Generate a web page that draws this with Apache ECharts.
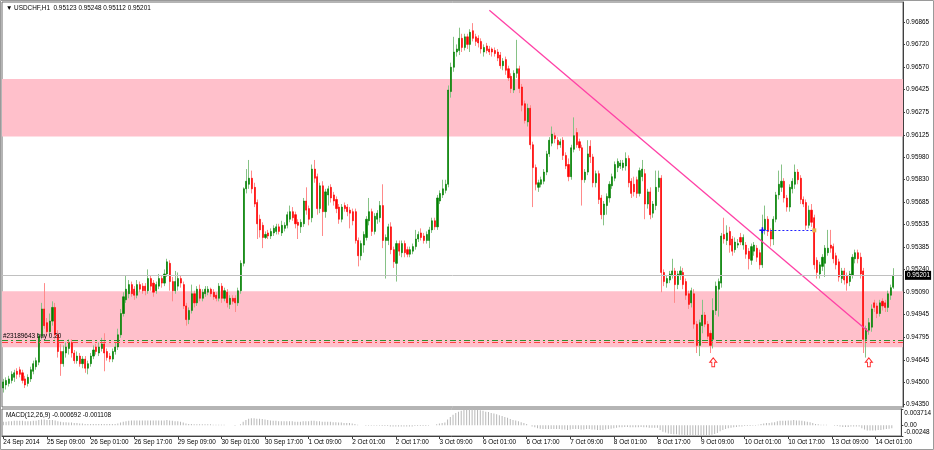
<!DOCTYPE html>
<html>
<head>
<meta charset="utf-8">
<script src="https://cdn.jsdelivr.net/npm/echarts@6/dist/echarts.min.js"></script>
<style>html,body{margin:0;padding:0;background:#fff}#c{width:934px;height:450px}</style>
</head>
<body>
<div id="c"></div>
<script>
// ---------- DATA ----------
const symbol = 'USDCHF,H1';
// hourly candles [open, close, low, high], first bar 24 Sep 2014 17:00
const candles = [
[0.9446,0.9450,0.9443,0.9452],[0.9448,0.9451,0.9445,0.9453],[0.9449,0.9452,0.9447,0.9454],[0.9451,0.9455,0.9449,0.9457],[0.9453,0.9456,0.9450,0.9458],
[0.9457,0.9455,0.9452,0.9459],[0.9458,0.9455,0.9453,0.9460],[0.9456,0.9451,0.9449,0.9458],[0.9452,0.9448,0.9446,0.9454],[0.9449,0.9453,0.9447,0.9455],
[0.9452,0.9458,0.9450,0.9460],[0.9457,0.9462,0.9455,0.9464],[0.9460,0.9464,0.9458,0.9466],[0.9463,0.9480,0.9461,0.9482],[0.9480,0.9498,0.9478,0.9502],
[0.9498,0.9487,0.9485,0.9515],[0.9489,0.9483,0.9480,0.9492],[0.9483,0.9490,0.9480,0.9495],[0.9490,0.9499,0.9487,0.9503],[0.9499,0.9481,0.9478,0.9502],
[0.9481,0.9470,0.9466,0.9484],[0.9470,0.9462,0.9454,0.9475],[0.9462,0.9470,0.9460,0.9474],[0.9469,0.9473,0.9466,0.9476],[0.9472,0.9476,0.9468,0.9478],
[0.9476,0.9469,0.9466,0.9478],[0.9469,0.9464,0.9462,0.9471],[0.9464,0.9467,0.9462,0.9470],[0.9467,0.9462,0.9460,0.9469],[0.9462,0.9465,0.9459,0.9467],
[0.9465,0.9459,0.9456,0.9467],[0.9459,0.9462,0.9455,0.9464],[0.9462,0.9467,0.9460,0.9469],[0.9467,0.9471,0.9465,0.9474],[0.9473,0.9470,0.9468,0.9475],
[0.9469,0.9473,0.9467,0.9476],[0.9472,0.9475,0.9470,0.9479],[0.9475,0.9469,0.9457,0.9482],[0.9470,0.9466,0.9464,0.9472],[0.9467,0.9465,0.9463,0.9469],
[0.9465,0.9470,0.9463,0.9472],[0.9470,0.9473,0.9468,0.9476],[0.9473,0.9481,0.9471,0.9485],[0.9481,0.9495,0.9479,0.9498],[0.9495,0.9506,0.9493,0.9509],
[0.9504,0.9511,0.9502,0.9520],[0.9508,0.9514,0.9505,0.9517],[0.9514,0.9508,0.9506,0.9516],[0.9511,0.9507,0.9504,0.9513],[0.9507,0.9514,0.9505,0.9517],
[0.9514,0.9511,0.9509,0.9516],[0.9513,0.9510,0.9508,0.9515],[0.9513,0.9510,0.9507,0.9515],[0.9510,0.9518,0.9508,0.9524],[0.9518,0.9513,0.9510,0.9520],
[0.9515,0.9509,0.9506,0.9517],[0.9510,0.9514,0.9508,0.9516],[0.9513,0.9518,0.9511,0.9521],[0.9518,0.9515,0.9512,0.9520],[0.9515,0.9521,0.9513,0.9524],
[0.9521,0.9529,0.9519,0.9531],[0.9528,0.9516,0.9510,0.9530],[0.9516,0.9510,0.9503,0.9519],[0.9510,0.9516,0.9508,0.9523],[0.9513,0.9518,0.9510,0.9522],
[0.9518,0.9515,0.9512,0.9520],[0.9514,0.9500,0.9498,0.9516],[0.9500,0.9491,0.9487,0.9502],[0.9491,0.9497,0.9488,0.9499],[0.9497,0.9508,0.9495,0.9514],
[0.9508,0.9502,0.9499,0.9510],[0.9502,0.9511,0.9500,0.9513],[0.9511,0.9505,0.9503,0.9514],[0.9505,0.9509,0.9503,0.9511],[0.9508,0.9511,0.9506,0.9513],
[0.9509,0.9511,0.9507,0.9513],[0.9511,0.9508,0.9506,0.9512],[0.9509,0.9506,0.9504,0.9511],[0.9507,0.9505,0.9503,0.9509],[0.9505,0.9513,0.9503,0.9515],
[0.9513,0.9505,0.9502,0.9515],[0.9505,0.9510,0.9503,0.9512],[0.9509,0.9502,0.9499,0.9511],[0.9501,0.9505,0.9498,0.9507],[0.9505,0.9503,0.9501,0.9507],
[0.9505,0.9502,0.9496,0.9507],[0.9502,0.9510,0.9500,0.9512],[0.9510,0.9528,0.9508,0.9530],[0.9528,0.9577,0.9526,0.9578],[0.9577,0.9582,0.9574,0.9590],
[0.9580,0.9584,0.9577,0.9596],[0.9584,0.9577,0.9574,0.9589],[0.9578,0.9567,0.9565,0.9581],[0.9568,0.9554,0.9544,0.9570],[0.9557,0.9550,0.9545,0.9560],
[0.9553,0.9545,0.9538,0.9555],[0.9545,0.9547,0.9544,0.9549],[0.9548,0.9546,0.9544,0.9550],[0.9546,0.9549,0.9544,0.9551],[0.9548,0.9551,0.9546,0.9553],
[0.9549,0.9552,0.9547,0.9554],[0.9552,0.9549,0.9547,0.9554],[0.9548,0.9553,0.9546,0.9556],[0.9551,0.9553,0.9549,0.9555],[0.9553,0.9560,0.9551,0.9562],
[0.9557,0.9562,0.9555,0.9566],[0.9562,0.9558,0.9556,0.9565],[0.9560,0.9554,0.9551,0.9562],[0.9555,0.9553,0.9544,0.9557],[0.9552,0.9555,0.9548,0.9557],
[0.9554,0.9569,0.9552,0.9571],[0.9569,0.9563,0.9560,0.9578],[0.9564,0.9557,0.9553,0.9566],[0.9558,0.9590,0.9555,0.9593],[0.9590,0.9584,0.9581,0.9596],
[0.9585,0.9564,0.9560,0.9587],[0.9564,0.9579,0.9561,0.9581],[0.9579,0.9562,0.9546,0.9582],[0.9562,0.9575,0.9558,0.9577],[0.9573,0.9577,0.9566,0.9579],
[0.9578,0.9571,0.9568,0.9580],[0.9573,0.9569,0.9566,0.9575],[0.9570,0.9564,0.9561,0.9572],[0.9565,0.9557,0.9554,0.9567],[0.9557,0.9565,0.9555,0.9567],
[0.9566,0.9564,0.9562,0.9568],[0.9565,0.9562,0.9559,0.9567],[0.9563,0.9561,0.9551,0.9565],[0.9562,0.9556,0.9553,0.9564],[0.9562,0.9543,0.9541,0.9564],
[0.9543,0.9533,0.9526,0.9545],[0.9533,0.9541,0.9530,0.9543],[0.9540,0.9547,0.9535,0.9549],[0.9545,0.9557,0.9543,0.9559],[0.9556,0.9562,0.9553,0.9571],
[0.9562,0.9549,0.9546,0.9564],[0.9549,0.9559,0.9547,0.9561],[0.9557,0.9561,0.9554,0.9563],[0.9558,0.9566,0.9555,0.9569],[0.9566,0.9543,0.9538,0.9580],
[0.9543,0.9545,0.9518,0.9547],[0.9543,0.9552,0.9540,0.9554],[0.9552,0.9537,0.9534,0.9555],[0.9537,0.9529,0.9525,0.9539],[0.9528,0.9541,0.9516,0.9543],
[0.9541,0.9536,0.9533,0.9543],[0.9535,0.9541,0.9532,0.9543],[0.9541,0.9535,0.9532,0.9543],[0.9537,0.9534,0.9532,0.9539],[0.9534,0.9537,0.9532,0.9539],
[0.9536,0.9539,0.9534,0.9541],[0.9539,0.9544,0.9537,0.9550],[0.9544,0.9547,0.9542,0.9549],[0.9548,0.9545,0.9543,0.9551],[0.9546,0.9543,0.9541,0.9548],
[0.9543,0.9547,0.9541,0.9549],[0.9543,0.9550,0.9538,0.9552],[0.9550,0.9556,0.9548,0.9558],[0.9556,0.9552,0.9550,0.9558],[0.9552,0.9571,0.9550,0.9573],
[0.9569,0.9574,0.9567,0.9576],[0.9573,0.9577,0.9571,0.9583],[0.9576,0.9580,0.9574,0.9583],[0.9580,0.9642,0.9578,0.9645],[0.9641,0.9657,0.9637,0.9660],
[0.9657,0.9667,0.9654,0.9677],[0.9667,0.9669,0.9664,0.9672],[0.9668,0.9676,0.9665,0.9683],[0.9676,0.9670,0.9667,0.9679],[0.9670,0.9677,0.9668,0.9679],
[0.9677,0.9672,0.9669,0.9679],[0.9672,0.9680,0.9667,0.9682],[0.9681,0.9676,0.9674,0.9686],[0.9677,0.9674,0.9671,0.9679],[0.9676,0.9673,0.9670,0.9678],
[0.9674,0.9669,0.9666,0.9676],[0.9667,0.9670,0.9664,0.9672],[0.9671,0.9668,0.9666,0.9673],[0.9669,0.9667,0.9665,0.9671],[0.9669,0.9667,0.9664,0.9670],
[0.9668,0.9666,0.9664,0.9670],[0.9667,0.9663,0.9661,0.9669],[0.9665,0.9658,0.9656,0.9667],[0.9658,0.9661,0.9655,0.9663],[0.9662,0.9655,0.9652,0.9664],
[0.9656,0.9650,0.9648,0.9658],[0.9651,0.9643,0.9640,0.9653],[0.9642,0.9653,0.9640,0.9655],[0.9653,0.9656,0.9650,0.9675],[0.9656,0.9643,0.9640,0.9658],
[0.9644,0.9632,0.9628,0.9646],[0.9633,0.9622,0.9620,0.9635],[0.9621,0.9630,0.9618,0.9633],[0.9630,0.9606,0.9603,0.9632],[0.9606,0.9591,0.9565,0.9608],
[0.9591,0.9580,0.9576,0.9593],[0.9578,0.9581,0.9575,0.9583],[0.9580,0.9583,0.9578,0.9585],[0.9582,0.9588,0.9580,0.9590],[0.9588,0.9600,0.9586,0.9602],
[0.9600,0.9609,0.9598,0.9611],[0.9607,0.9613,0.9605,0.9618],[0.9612,0.9610,0.9607,0.9614],[0.9609,0.9606,0.9603,0.9611],[0.9606,0.9608,0.9604,0.9610],
[0.9609,0.9599,0.9596,0.9611],[0.9599,0.9592,0.9590,0.9601],[0.9593,0.9585,0.9582,0.9597],[0.9585,0.9604,0.9583,0.9606],[0.9603,0.9612,0.9601,0.9624],
[0.9614,0.9606,0.9604,0.9617],[0.9608,0.9604,0.9602,0.9610],[0.9604,0.9583,0.9566,0.9606],[0.9583,0.9588,0.9581,0.9590],[0.9588,0.9600,0.9586,0.9609],
[0.9605,0.9598,0.9594,0.9609],[0.9598,0.9581,0.9578,0.9600],[0.9581,0.9587,0.9578,0.9589],[0.9587,0.9570,0.9567,0.9589],[0.9571,0.9560,0.9557,0.9573],
[0.9560,0.9567,0.9553,0.9569],[0.9566,0.9572,0.9560,0.9574],[0.9571,0.9580,0.9568,0.9582],[0.9579,0.9585,0.9577,0.9587],[0.9584,0.9593,0.9582,0.9595],
[0.9591,0.9595,0.9588,0.9597],[0.9592,0.9594,0.9590,0.9596],[0.9591,0.9594,0.9589,0.9596],[0.9592,0.9597,0.9589,0.9601],[0.9597,0.9581,0.9578,0.9599],
[0.9582,0.9574,0.9571,0.9584],[0.9580,0.9575,0.9572,0.9585],[0.9583,0.9574,0.9571,0.9585],[0.9574,0.9589,0.9572,0.9591],[0.9585,0.9590,0.9582,0.9596],
[0.9587,0.9567,0.9557,0.9590],[0.9567,0.9575,0.9564,0.9577],[0.9575,0.9560,0.9557,0.9578],[0.9561,0.9567,0.9558,0.9569],[0.9566,0.9578,0.9563,0.9589],
[0.9578,0.9584,0.9575,0.9589],[0.9584,0.9522,0.9509,0.9586],[0.9522,0.9516,0.9513,0.9524],[0.9515,0.9518,0.9512,0.9520],[0.9517,0.9521,0.9515,0.9523],
[0.9520,0.9523,0.9518,0.9531],[0.9523,0.9514,0.9502,0.9525],[0.9514,0.9521,0.9511,0.9523],[0.9520,0.9523,0.9517,0.9526],[0.9522,0.9514,0.9511,0.9525],
[0.9516,0.9507,0.9504,0.9518],[0.9508,0.9501,0.9498,0.9510],[0.9502,0.9510,0.9499,0.9512],[0.9508,0.9488,0.9485,0.9511],[0.9488,0.9474,0.9469,0.9490],
[0.9474,0.9489,0.9467,0.9491],[0.9487,0.9494,0.9482,0.9504],[0.9494,0.9488,0.9486,0.9496],[0.9488,0.9480,0.9478,0.9490],[0.9482,0.9474,0.9469,0.9484],
[0.9478,0.9497,0.9472,0.9505],[0.9497,0.9513,0.9494,0.9516],[0.9511,0.9516,0.9493,0.9518],[0.9515,0.9546,0.9512,0.9548],[0.9547,0.9544,0.9541,0.9558],
[0.9543,0.9548,0.9540,0.9553],[0.9549,0.9540,0.9535,0.9552],[0.9544,0.9536,0.9533,0.9546],[0.9537,0.9542,0.9535,0.9545],[0.9540,0.9541,0.9538,0.9544],
[0.9545,0.9542,0.9540,0.9548],[0.9540,0.9545,0.9537,0.9547],[0.9540,0.9534,0.9531,0.9542],[0.9536,0.9531,0.9524,0.9538],[0.9530,0.9539,0.9527,0.9541],
[0.9536,0.9540,0.9533,0.9542],[0.9538,0.9532,0.9529,0.9540],[0.9535,0.9527,0.9524,0.9537],[0.9527,0.9550,0.9525,0.9560],[0.9550,0.9557,0.9547,0.9566],
[0.9557,0.9549,0.9546,0.9559],[0.9549,0.9544,0.9539,0.9551],[0.9544,0.9557,0.9540,0.9559],[0.9557,0.9573,0.9555,0.9575],[0.9573,0.9580,0.9570,0.9589],
[0.9578,0.9582,0.9575,0.9593],[0.9582,0.9571,0.9568,0.9584],[0.9571,0.9565,0.9562,0.9573],[0.9565,0.9578,0.9562,0.9580],[0.9577,0.9582,0.9574,0.9584],
[0.9580,0.9588,0.9577,0.9593],[0.9588,0.9583,0.9580,0.9590],[0.9584,0.9570,0.9567,0.9586],[0.9570,0.9567,0.9565,0.9572],[0.9568,0.9553,0.9550,0.9570],
[0.9553,0.9563,0.9551,0.9566],[0.9563,0.9555,0.9552,0.9567],[0.9558,0.9527,0.9524,0.9560],[0.9530,0.9522,0.9518,0.9532],[0.9521,0.9527,0.9518,0.9529],
[0.9526,0.9532,0.9523,0.9534],[0.9528,0.9538,0.9519,0.9540],[0.9535,0.9538,0.9533,0.9550],[0.9540,0.9538,0.9535,0.9550],[0.9539,0.9531,0.9528,0.9541],
[0.9533,0.9527,0.9524,0.9535],[0.9529,0.9519,0.9516,0.9531],[0.9518,0.9523,0.9515,0.9525],[0.9523,0.9517,0.9514,0.9525],[0.9520,0.9515,0.9510,0.9522],
[0.9516,0.9521,0.9513,0.9523],[0.9520,0.9532,0.9518,0.9534],[0.9531,0.9535,0.9528,0.9537],[0.9535,0.9531,0.9528,0.9537],[0.9532,0.9521,0.9518,0.9535],
[0.9523,0.9478,0.9469,0.9525],[0.9478,0.9485,0.9466,0.9487],[0.9484,0.9489,0.9481,0.9492],[0.9486,0.9498,0.9483,0.9501],[0.9502,0.9499,0.9496,0.9504],
[0.9500,0.9495,0.9492,0.9502],[0.9495,0.9502,0.9493,0.9504],[0.9503,0.9500,0.9497,0.9505],[0.9502,0.9499,0.9496,0.9504],[0.9499,0.9508,0.9496,0.9510],
[0.9507,0.9512,0.9504,0.9514],[0.95123,0.95201,0.95112,0.95248]
];
// MACD(12,26,9) main line histogram, one value per candle
const macd = [
0.0008,0.0008,0.0009,0.0009,0.0010,0.0010,0.0010,0.0010,0.0009,0.0009,
0.0009,0.0010,0.0010,0.0012,0.0013,0.0013,0.0012,0.0012,0.0012,0.0011,
0.0009,0.0008,0.0007,0.0007,0.0006,0.0006,0.0005,0.0005,0.0004,0.0004,
0.0003,0.0003,0.0003,0.0003,0.0003,0.0003,0.0003,0.0003,0.0003,0.0003,
0.0003,0.0003,0.0004,0.0006,0.0008,0.0009,0.0010,0.0011,0.0011,0.0011,
0.0011,0.0011,0.0011,0.0011,0.0011,0.0011,0.0011,0.0011,0.0011,0.0011,
0.0012,0.0011,0.0010,0.0009,0.0009,0.0008,0.0006,0.0004,0.0003,0.0003,
0.0002,0.0002,0.0002,0.0002,0.0002,0.0002,0.0002,0.0001,0.0001,0.0001,
0.0001,0.0001,0.0000,0.0000,0.0000,-0.0001,0.0000,0.0002,0.0008,0.0012,
0.0015,0.0016,0.0016,0.0015,0.0015,0.0014,0.0013,0.0012,0.0011,0.0010,
0.0010,0.0009,0.0009,0.0009,0.0009,0.0009,0.0009,0.0008,0.0008,0.0008,
0.0009,0.0009,0.0009,0.0010,0.0010,0.0009,0.0009,0.0008,0.0008,0.0008,
0.0008,0.0007,0.0007,0.0006,0.0006,0.0005,0.0005,0.0005,0.0004,0.0003,
0.0001,0.0000,0.0000,-0.0001,-0.0001,-0.0001,-0.0001,-0.0001,-0.0001,-0.0002,
-0.0002,-0.0002,-0.0003,-0.0003,-0.0003,-0.0003,-0.0003,-0.0003,-0.0003,-0.0003,
-0.0003,-0.0002,-0.0002,-0.0002,-0.0002,-0.0002,-0.0001,0.0000,0.0000,0.0002,
0.0004,0.0005,0.0006,0.0013,0.0019,0.0024,0.0028,0.0031,0.0033,0.0035,
0.0036,0.0037,0.0037,0.0036,0.0035,0.0034,0.0033,0.0031,0.0030,0.0028,
0.0027,0.0025,0.0023,0.0021,0.0019,0.0017,0.0014,0.0012,0.0011,0.0009,
0.0007,0.0005,0.0003,0.0000,-0.0003,-0.0005,-0.0007,-0.0008,-0.0009,-0.0009,
-0.0009,-0.0009,-0.0009,-0.0009,-0.0009,-0.0010,-0.0010,-0.0011,-0.0010,-0.0009,
-0.0009,-0.0009,-0.0010,-0.0010,-0.0009,-0.0009,-0.0010,-0.0010,-0.0011,-0.0011,
-0.0011,-0.0010,-0.0009,-0.0008,-0.0007,-0.0006,-0.0005,-0.0005,-0.0004,-0.0004,
-0.0005,-0.0005,-0.0005,-0.0005,-0.0004,-0.0005,-0.0005,-0.0006,-0.0006,-0.0006,
-0.0006,-0.0011,-0.0015,-0.0017,-0.0019,-0.0020,-0.0021,-0.0021,-0.0022,-0.0022,
-0.0023,-0.0024,-0.0024,-0.0025,-0.0025,-0.0024,-0.0024,-0.0024,-0.0024,-0.0024,
-0.0022,-0.0020,-0.0018,-0.0014,-0.0011,-0.0009,-0.0007,-0.0006,-0.0005,-0.0004,
-0.0003,-0.0003,-0.0002,-0.0002,-0.0002,-0.0001,-0.0001,0.0001,0.0003,0.0004,
0.0005,0.0005,0.0006,0.0007,0.0009,0.0010,0.0010,0.0010,0.0011,0.0011,
0.0012,0.0011,0.0011,0.0010,0.0009,0.0008,0.0007,0.0005,0.0003,0.0002,
0.0001,0.0001,0.0001,0.0000,0.0000,-0.0001,-0.0002,-0.0003,-0.0004,-0.0004,
-0.0004,-0.0003,-0.0003,-0.0003,-0.0003,-0.0007,-0.0010,-0.0012,-0.0012,-0.0012,
-0.0012,-0.0011,-0.0011,-0.0010,-0.0009,-0.0008,-0.000692
];
const macdLabel = 'MACD(12,26,9) -0.000692 -0.001108';
const yTicks = [0.94350,0.94500,0.94645,0.94795,0.94945,0.95090,0.95240,0.95385,0.95535,0.95685,0.95830,0.95980,0.96125,0.96275,0.96425,0.96570,0.96720,0.96865];
const xTickLabels = ['24 Sep 2014','25 Sep 09:00','26 Sep 01:00','26 Sep 17:00','29 Sep 09:00','30 Sep 01:00','30 Sep 17:00','1 Oct 09:00','2 Oct 01:00','2 Oct 17:00','3 Oct 09:00','6 Oct 01:00','6 Oct 17:00','7 Oct 09:00','8 Oct 01:00','8 Oct 17:00','9 Oct 09:00','10 Oct 01:00','10 Oct 17:00','13 Oct 09:00','14 Oct 01:00'];
const macdTicks = [0.003714, 0, -0.00248];
const zones = [[0.96114, 0.96492], [0.94728, 0.95097]];
const currentPrice = 0.95201;
const tradeLine = 0.94771;   // green dash-dot
const stopLine = 0.94758;    // red dash-dot
const tradeText = '#23189643 buy 0.20';
const trendStart = [178, 0.96945];
const trendEnd = [317, 0.94829];
const blueLine = [278, 297, 0.95497];
const arrowBars = [260, 317];
const arrowPrice = 0.94629;

// ---------- CATEGORIES (hourly bars, weekends skipped) ----------
const MON = ['Jan','Feb','Mar','Apr','May','Jun','Jul','Aug','Sep','Oct','Nov','Dec'];
const categories = [];
{
  let t = Date.UTC(2014, 8, 24, 17);
  while (categories.length < candles.length) {
    const d = new Date(t), wd = d.getUTCDay();
    if (wd !== 0 && wd !== 6) {
      categories.push(d.getUTCDate() + ' ' + MON[d.getUTCMonth()] + ' ' + String(d.getUTCHours()).padStart(2,'0') + ':00');
    }
    t += 3600000;
  }
  for (let k = 0; k < 3; k++) categories.push('pad' + k);
}

// ---------- CHART ----------
const FONT = 'Liberation Sans';
const FS = 6.4;
const last = candles[candles.length - 1];
const titleText = '\u25BC ' + symbol + '  ' + [last[0], last[3], last[2], last[1]].map(v => v.toFixed(5)).join(' ');
const bodies = candles.map(c => [c[0], c[1], Math.min(c[0], c[1]), Math.max(c[0], c[1])]);
const arrowPath = 'path://M5,0 L10,5 L7,5 L7,10 L3,10 L3,5 L0,5 Z';
const crossPath = 'path://M3,0 L5,0 L5,3 L8,3 L8,5 L5,5 L5,8 L3,8 L3,5 L0,5 L0,3 L3,3 Z';

const chart = echarts.init(document.getElementById('c'), null, {renderer: 'canvas'});
chart.setOption({
  animation: false,
  backgroundColor: '#fff',
  textStyle: {fontFamily: FONT},
  graphic: [{type: 'rect', silent: true, shape: {x: 0.5, y: 0.5, width: 933, height: 449}, style: {fill: 'none', stroke: '#9a9a9a', lineWidth: 1}}],
  title: [
    {text: titleText, left: 6, top: 5, padding: 0, textStyle: {fontSize: FS, fontWeight: 'normal', color: '#000', fontFamily: FONT}},
    {text: macdLabel, left: 6, top: 412, padding: 0, textStyle: {fontSize: FS, fontWeight: 'normal', color: '#000', fontFamily: FONT}}
  ],
  grid: [
    {left: 2, top: 2, width: 901, height: 405, show: true, borderColor: '#6a6a6a', borderWidth: 1, backgroundColor: '#fff'},
    {left: 2, top: 409, width: 901, height: 27, show: true, borderColor: '#6a6a6a', borderWidth: 1, backgroundColor: '#fff'}
  ],
  xAxis: [
    {type: 'category', gridIndex: 0, data: categories, boundaryGap: true,
     axisLine: {show: false}, axisTick: {show: false}, axisLabel: {show: false}, splitLine: {show: false}},
    {type: 'category', gridIndex: 1, data: categories, boundaryGap: true,
     axisLine: {show: true, onZero: false, lineStyle: {color: '#404040'}},
     axisTick: {show: true, interval: 15, alignWithLabel: true, length: 3, lineStyle: {color: '#404040'}},
     axisLabel: {show: true, interval: 15, align: 'left', margin: 3, fontSize: FS, color: '#000', fontFamily: FONT,
                 formatter: (v, i) => (i % 16 === 0 && xTickLabels[i / 16]) ? xTickLabels[i / 16] : ''},
     splitLine: {show: false}}
  ],
  yAxis: [
    {type: 'value', gridIndex: 0, position: 'right', min: 0.94335, max: 0.96999, splitLine: {show: false},
     axisLine: {show: true, onZero: false, lineStyle: {color: '#404040'}},
     axisTick: {show: true, length: 2, customValues: yTicks, lineStyle: {color: '#404040'}},
     axisLabel: {show: true, customValues: yTicks, formatter: v => v.toFixed(5), fontSize: FS, margin: 3, color: '#000', fontFamily: FONT}},
    {type: 'value', gridIndex: 1, position: 'right', min: -0.00248, max: 0.003714, splitLine: {show: false},
     axisLine: {show: true, onZero: false, lineStyle: {color: '#404040'}},
     axisTick: {show: true, length: 2, customValues: macdTicks, lineStyle: {color: '#404040'}},
     axisLabel: {show: true, customValues: macdTicks, margin: 3, fontSize: FS, color: '#000', fontFamily: FONT,
       formatter: v => v > 0.001 ? '{t|' + v.toFixed(6) + '}' : (v < -0.001 ? '{b|' + v.toFixed(5) + '}' : '0.00'),
       rich: {t: {padding: [8, 0, 0, 0], fontSize: FS, fontFamily: FONT, color: '#000'},
              b: {padding: [0, 0, 7, 0], fontSize: FS, fontFamily: FONT, color: '#000'}}}}
  ],
  series: [
    {
      name: 'wicks', type: 'candlestick', xAxisIndex: 0, yAxisIndex: 0, silent: true, z: 2,
      data: candles, barWidth: 1,
      itemStyle: {color: '#86c286', color0: '#ff8a8a', borderColor: '#86c286', borderColor0: '#ff8a8a', borderWidth: 1},
      markArea: {silent: true, itemStyle: {color: '#ffc0cb'},
        data: zones.map(z => [{yAxis: z[0]}, {yAxis: z[1]}])},
      markLine: {silent: true, symbol: ['none', 'none'], animation: false, precision: 5,
        data: [
          [{coord: [categories[trendStart[0]], trendStart[1]]}, {coord: [categories[trendEnd[0]], trendEnd[1]],
            lineStyle: {color: '#ff40a6', width: 1.3, type: 'solid'}, label: {show: false}}],
          [{coord: [categories[blueLine[0]], blueLine[2]]}, {coord: [categories[blueLine[1]], blueLine[2]],
            lineStyle: {color: '#2020ff', width: 1, type: [2, 2]}, label: {show: false}}]
        ]},
      markPoint: {silent: true, label: {show: false}, animation: false,
        data: [
          ...arrowBars.map(b => ({coord: [categories[b], arrowPrice], symbol: arrowPath, symbolSize: [7, 9],
                                  itemStyle: {color: '#fff', borderColor: '#ff2a2a', borderWidth: 1}})),
          {coord: [categories[blueLine[0]], blueLine[2]], symbol: crossPath, symbolSize: 6, itemStyle: {color: '#1010ff'}},
          {coord: [categories[blueLine[1]], blueLine[2]], symbol: 'rect', symbolSize: 4, itemStyle: {color: '#e8b050'}}
        ]}
    },
    {
      name: 'bodies', type: 'candlestick', xAxisIndex: 0, yAxisIndex: 0, silent: true, z: 3,
      data: bodies, barWidth: 1.6,
      itemStyle: {color: '#008000', color0: '#ff0000', borderColor: '#008000', borderColor0: '#ff0000', borderWidth: 0.6}
    },
    {
      name: 'levels', type: 'line', xAxisIndex: 0, yAxisIndex: 0, silent: true, z: 4,
      data: candles.map(() => null), showSymbol: false, lineStyle: {opacity: 0},
      markLine: {silent: true, symbol: ['none', 'none'], animation: false, precision: 5,
        data: [
          {yAxis: currentPrice, lineStyle: {color: '#c0c0c0', type: 'solid', width: 1},
           label: {show: true, position: 'end', distance: 2, formatter: currentPrice.toFixed(5), backgroundColor: '#000', color: '#fff',
                   fontSize: FS, fontFamily: FONT, padding: [2, 1, 1, 2]}},
          {yAxis: tradeLine, lineStyle: {color: '#2f8f2f', type: [6, 3, 2, 3], width: 1},
           label: {show: true, position: 'insideStartTop', distance: 1, formatter: tradeText, color: '#000', fontSize: FS, fontFamily: FONT}},
          {yAxis: stopLine, lineStyle: {color: '#ff4040', type: [6, 3, 2, 3], width: 1}, label: {show: false}}
        ]}
    },
    {
      name: 'MACD', type: 'bar', xAxisIndex: 1, yAxisIndex: 1, silent: true,
      data: macd, barWidth: 1, itemStyle: {color: '#b8b8b8'}
    }
  ]
});
</script>
</body>
</html>
